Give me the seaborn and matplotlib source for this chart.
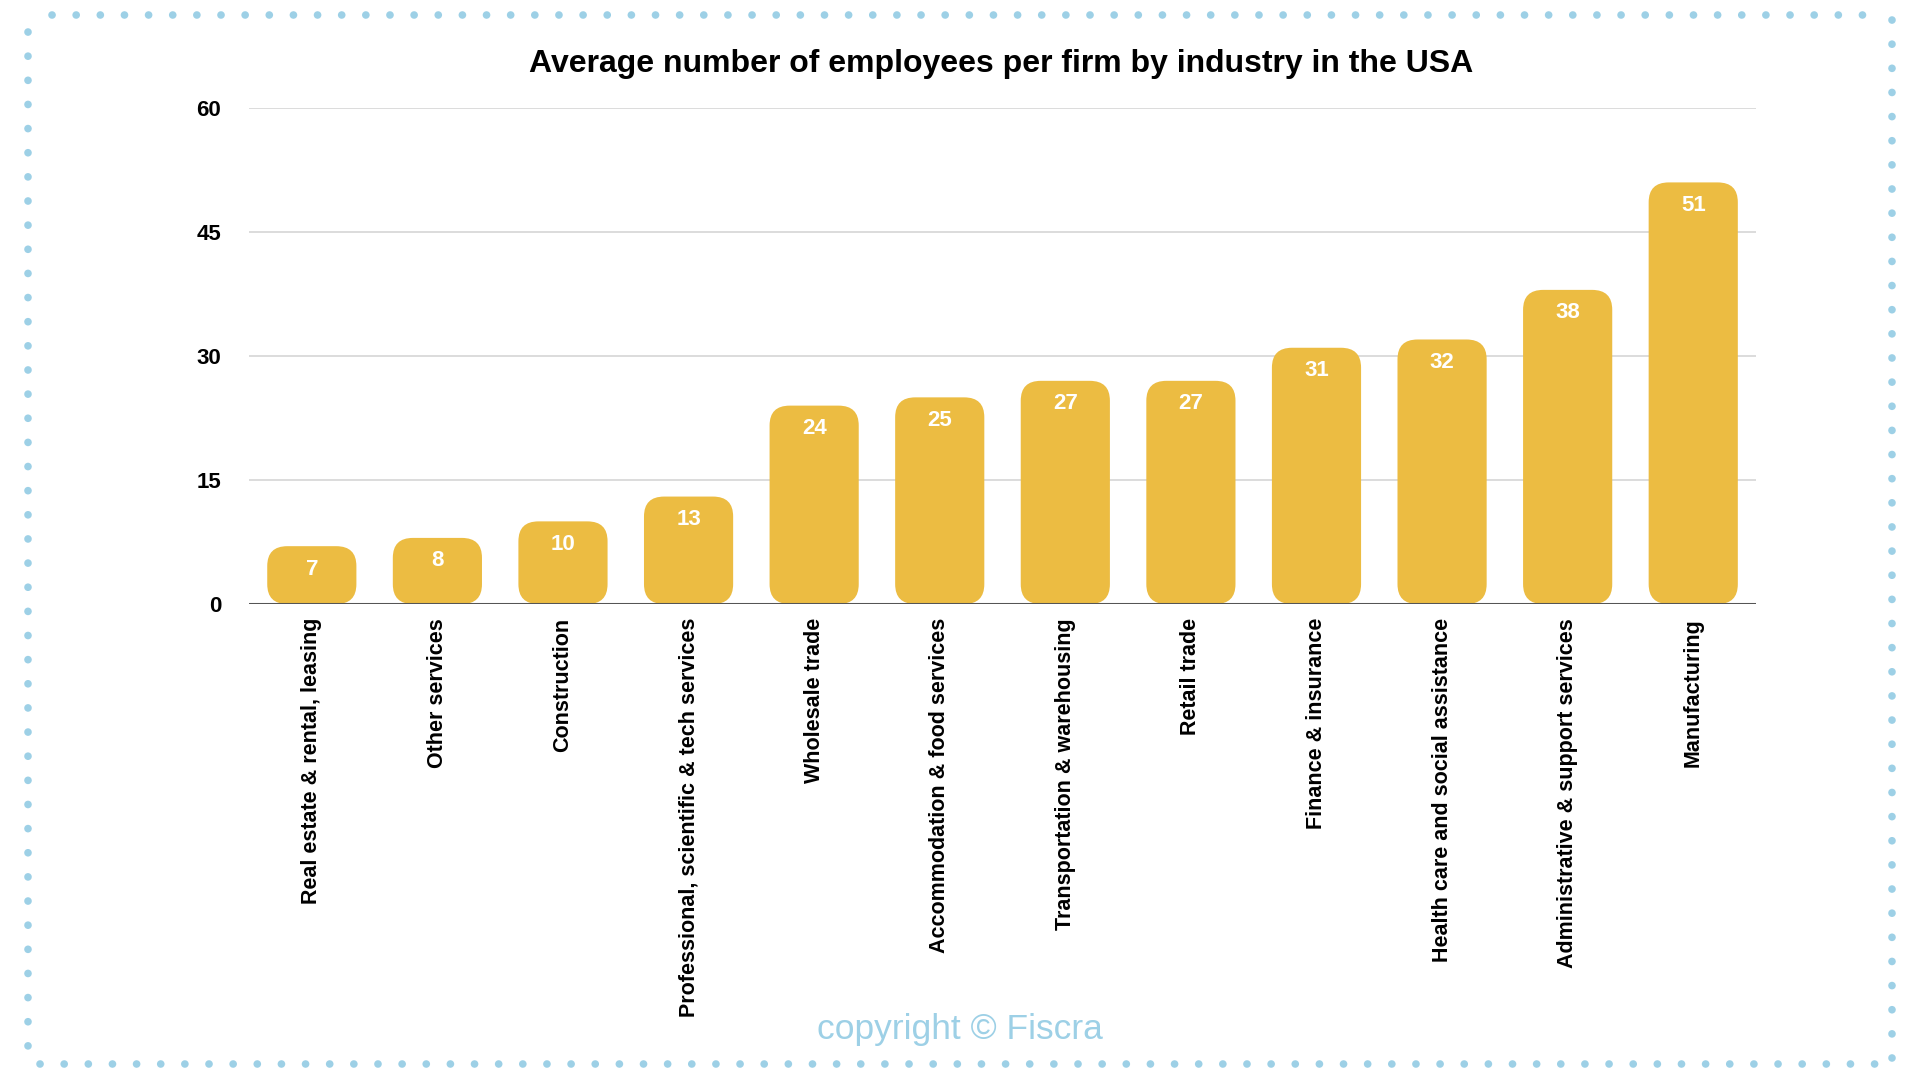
import matplotlib
matplotlib.use("Agg")
import matplotlib.pyplot as plt
from matplotlib.patches import FancyBboxPatch
from matplotlib.lines import Line2D
import seaborn as sns
import pandas as pd

# chart data
industries = [
    "Real estate & rental, leasing", "Other services", "Construction",
    "Professional, scientific & tech services", "Wholesale trade",
    "Accommodation & food services", "Transportation & warehousing",
    "Retail trade", "Finance & insurance", "Health care and social assistance",
    "Administrative & support services", "Manufacturing",
]
employees = [7, 8, 10, 13, 24, 25, 27, 27, 31, 32, 38, 51]
y_ticks = [0, 15, 30, 45, 60]

bar_color = "#ECBC42"
dot_color = "#9DD0E6"

df = pd.DataFrame({"industry": industries, "employees": employees})

sns.set_theme(style="white")
plt.rcParams["font.family"] = ["Liberation Sans", "DejaVu Sans"]
plt.rcParams["text.color"] = "black"
plt.rcParams["xtick.color"] = "black"
plt.rcParams["ytick.color"] = "black"

fig = plt.figure(figsize=(19.2, 10.8), dpi=100)
ax = fig.add_axes([0.1297, 0.4407, 0.7849, 0.4593])

sns.barplot(data=df, x="industry", y="employees", color=bar_color,
            width=0.71, saturation=1, ax=ax)

# swap the square bars for rounded ones
for p in list(ax.patches):
    x, w, h = p.get_x(), p.get_width(), p.get_height()
    p.set_visible(False)
    rb = FancyBboxPatch((x, 0), w, h,
                        boxstyle="round,pad=0,rounding_size=0.16",
                        mutation_aspect=15, facecolor=bar_color,
                        edgecolor="none", zorder=2)
    ax.add_patch(rb)
    ax.annotate(f"{h:.0f}", (x + w / 2, h), xytext=(0, -23),
                textcoords="offset pixels", ha="center", va="center",
                color="white", fontsize=16, fontweight="bold", zorder=3)

ax.set_xlim(-0.5, 11.5)
ax.set_ylim(0, 60)
ax.set_yticks(y_ticks)
ax.set_yticklabels([str(t) for t in y_ticks], fontsize=16, fontweight="bold")
ax.set_xticks(range(len(industries)))
ax.set_xticklabels(industries, rotation=90, ha="center", va="top",
                   fontsize=15.5, fontweight="bold")
ax.tick_params(axis="y", length=0, pad=20)
ax.tick_params(axis="x", length=0, pad=10)
ax.set_xlabel("")
ax.set_ylabel("")

for t in y_ticks[1:]:
    ax.axhline(t, color="#d6d6d6", lw=1.2, zorder=0)
ax.axhline(0, color="#555555", lw=2.2, zorder=4)
sns.despine(ax=ax, left=True, bottom=True)

fig.text(0.5215, 0.941, "Average number of employees per firm by industry in the USA",
         ha="center", va="center", fontsize=23, fontweight="bold")

fig.text(0.5, 0.047, "copyright \u00a9 Fiscra", ha="center", va="center",
         fontsize=25.5, color=dot_color)

# dotted frame around the whole picture
W, H = 1920, 1080
def dots(x0, y0, x1, y1):
    fig.add_artist(Line2D([x0 / W, x1 / W], [1 - y0 / H, 1 - y1 / H],
                          transform=fig.transFigure, color=dot_color, lw=5.5,
                          linestyle=(0, (0.01, 3.15)), dash_capstyle="round"))
dots(52, 15, 1880, 15)
dots(28, 32, 28, 1060)
dots(1892, 20, 1892, 1058)
dots(40, 1064, 1880, 1064)

fig.savefig("out.png", dpi=100)
